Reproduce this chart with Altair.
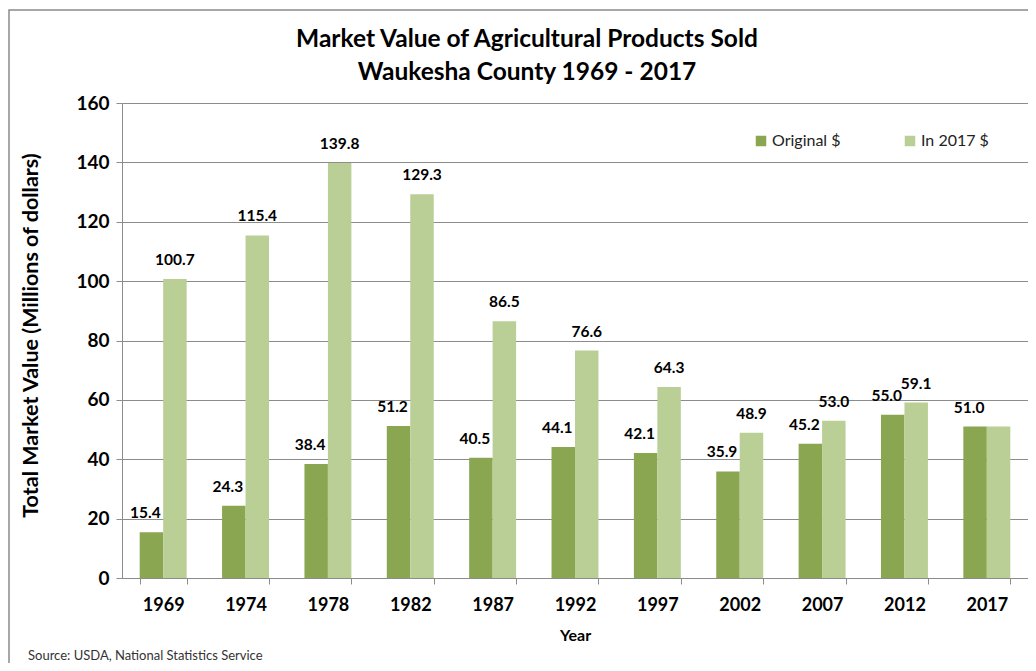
import altair as alt
import pandas as pd

years = ["1969", "1974", "1978", "1982", "1987", "1992", "1997", "2002", "2007", "2012", "2017"]
original = [15.4, 24.3, 38.4, 51.2, 40.5, 44.1, 42.1, 35.9, 45.2, 55.0, 51.0]
in2017 = [100.7, 115.4, 139.8, 129.3, 86.5, 76.6, 64.3, 48.9, 53.0, 59.1, 51.0]
series = ["Original $", "In 2017 $"]
colors = ["#8aa650", "#b9cf96"]
y_ticks = [0, 20, 40, 60, 80, 100, 120, 140, 160]
title_lines = ["Market Value of Agricultural Products Sold", "Waukesha County 1969 - 2017"]
source_text = "Source: USDA, National Statistics Service"

rows = []
for i, yr in enumerate(years):
    rows.append({"year": yr, "series": series[0], "value": original[i]})
    rows.append({"year": yr, "series": series[1], "value": in2017[i]})
df = pd.DataFrame(rows)
df["label"] = df["value"].map(lambda v: f"{v:.1f}")

FONT = "Lato"
GRID = "#8c8c8c"

x_enc = alt.X(
    "year:N",
    sort=years,
    scale=alt.Scale(paddingInner=0.43, paddingOuter=0.215),
    axis=alt.Axis(
        title="Year",
        labelAngle=0,
        labelFont=FONT,
        labelFontSize=18,
        labelFontWeight="bold",
        labelColor="#000000",
        labelPadding=12,
        tickBand="extent",
        tickSize=6,
        tickColor=GRID,
        domainColor=GRID,
        titleFont=FONT,
        titleFontSize=16,
        titleFontWeight="bold",
        titleColor="#000000",
        titlePadding=13,
    ),
)
y_enc = alt.Y(
    "value:Q",
    scale=alt.Scale(domain=[0, 160], nice=False),
    axis=alt.Axis(
        title="Total Market Value (Millions of dollars)",
        values=y_ticks,
        labelFont=FONT,
        labelFontSize=19,
        labelFontWeight="bold",
        labelColor="#000000",
        labelPadding=7,
        tickSize=6,
        tickColor=GRID,
        domainColor=GRID,
        gridColor=GRID,
        titleFont=FONT,
        titleFontSize=21.5,
        titleFontWeight="bold",
        titleColor="#000000",
        titleX=-91,
        titleY=232,
        titleAngle=-90,
        titleAlign="center",
        titleBaseline="middle",
    ),
)
xoff = alt.XOffset("series:N", sort=series)

base = alt.Chart(df)

bars = base.mark_bar().encode(
    x=x_enc,
    y=y_enc,
    xOffset=xoff,
    color=alt.Color(
        "series:N",
        sort=series,
        scale=alt.Scale(domain=series, range=colors),
        title=None,
        legend=alt.Legend(
            orient="none",
            legendX=631,
            legendY=30,
            direction="horizontal",
            symbolType="square",
            symbolSize=110,
            symbolStrokeWidth=0,
            labelFont=FONT,
            labelFontSize=16,
            labelColor="#222222",
            labelOffset=3,
            columnPadding=61,
            padding=0,
        ),
    ),
)

labels_orig = base.transform_filter(alt.datum.series == series[0]).mark_text(
    font=FONT, fontSize=15.5, fontWeight="bold", color="#000000", baseline="middle", dy=-19, dx=-6
).encode(x=alt.X("year:N", sort=years), y="value:Q", xOffset=xoff, text="label:N")

labels_new = base.transform_filter(
    (alt.datum.series == series[1]) & (alt.datum.year != "2017")
).mark_text(
    font=FONT, fontSize=15.5, fontWeight="bold", color="#000000", baseline="middle", dy=-19
).encode(x=alt.X("year:N", sort=years), y="value:Q", xOffset=xoff, text="label:N")

frame = alt.Chart(alt.Data(values=[{}])).mark_rect(
    filled=False, stroke="#8a8a8a", strokeWidth=1.5
).encode(x=alt.value(-113), x2=alt.value(1000), y=alt.value(-93), y2=alt.value(700))

title1 = alt.Chart(alt.Data(values=[{"t": title_lines[0]}])).mark_text(
    font=FONT, fontSize=24.5, fontWeight="bold", color="#000000", align="center", baseline="middle"
).encode(x=alt.value(405), y=alt.value(-63), text="t:N")

title2 = alt.Chart(alt.Data(values=[{"t": title_lines[1]}])).mark_text(
    font=FONT, fontSize=24.5, fontWeight="bold", color="#000000", align="center", baseline="middle"
).encode(x=alt.value(405), y=alt.value(-30), text="t:N")

source = alt.Chart(alt.Data(values=[{"t": source_text}])).mark_text(
    font=FONT, fontSize=13, color="#333333", align="left", baseline="middle"
).encode(x=alt.value(-94), y=alt.value(553), text="t:N")

chart = (
    alt.layer(bars, labels_orig, labels_new, frame, title1, title2, source)
    .properties(
        width=906,
        height=475,
        autosize=alt.AutoSizeParams(type="none"),
        padding={"left": 114, "top": 95, "right": 0, "bottom": 85},
    )
    .configure_view(stroke=None)
    .configure_axis(grid=False)
    .configure_axisY(grid=True)
)

chart.save("out.html", embed_options={"renderer": "svg", "actions": False})
